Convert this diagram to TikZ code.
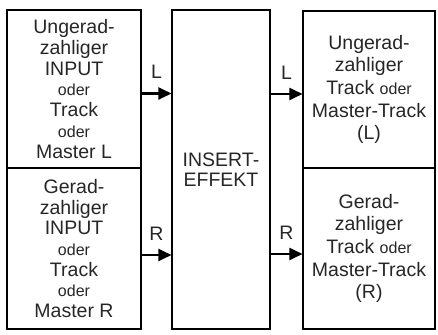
\documentclass[tikz,border=0pt]{standalone}
\usepackage{fontspec}
\setmainfont{Liberation Sans}
\usetikzlibrary{arrows.meta}

\newcommand{\smalltext}[1]{{\fontsize{16}{20.7}\selectfont #1}}

\tikzstyle{chanbox} = [
    rectangle, draw=black, line width=1.1pt,
    minimum width=134pt, align=center, inner sep=0pt,
    text=black!85, font=\fontsize{19.5}{20.7}\selectfont
]
\tikzstyle{effectbox} = [
    rectangle, draw=black, line width=1.1pt,
    minimum width=98pt, minimum height=319pt,
    align=center, inner sep=0pt,
    text=black!85, font=\fontsize{19.5}{20.5}\selectfont
]
\tikzstyle{destbox} = [
    rectangle, draw=black, line width=1.1pt,
    minimum width=132pt, align=center, inner sep=0pt,
    text=black!85, font=\fontsize{19.5}{22.7}\selectfont
]
\tikzstyle{arrow} = [line width=2.2pt, -{Triangle[length=13pt,width=12pt]}]
\tikzstyle{chanlabel} = [inner sep=0pt, text=black!85, font=\fontsize{19.5}{20}\selectfont]

\begin{document}
\begin{tikzpicture}[x=1pt,y=-1pt]
    \useasboundingbox (0,0) rectangle (438,334);

    % input side
    \node (inL) [chanbox, minimum height=158pt] at (74,89)
        {Ungerad-\\zahliger\\INPUT\\\smalltext{oder}\\Track\\\smalltext{oder}\\Master L};
    \node (inR) [chanbox, minimum height=161pt] at (74,248.5)
        {Gerad-\\zahliger\\INPUT\\\smalltext{oder}\\Track\\\smalltext{oder}\\Master R};

    % effect
    \node (fx) [effectbox] at (221,169.5) {INSERT-\\EFFEKT};

    % output side
    \node (outL) [destbox, minimum height=157pt] at (369,89.5)
        {Ungerad-\\zahliger\\Track \smalltext{oder}\\Master-Track\\(L)};
    \node (outR) [destbox, minimum height=161pt] at (369,248.5)
        {Gerad-\\zahliger\\Track \smalltext{oder}\\Master-Track\\(R)};

    \draw [arrow] ([yshift=-4.5pt]inL.east) -- ([yshift=-4.5pt]inL.east -| fx.west)
        node [chanlabel, midway, above=13.5pt] {L};
    \draw [arrow] ([yshift=-6.5pt]inR.east) -- ([yshift=-6.5pt]inR.east -| fx.west)
        node [chanlabel, midway, above=13.5pt] {R};
    \draw [arrow] ([yshift=-4.5pt]outL.west -| fx.east) -- ([yshift=-4.5pt]outL.west)
        node [chanlabel, midway, above=13.5pt] {L};
    \draw [arrow] ([yshift=-5.5pt]outR.west -| fx.east) -- ([yshift=-5.5pt]outR.west)
        node [chanlabel, midway, above=13.5pt] {R};
\end{tikzpicture}
\end{document}
